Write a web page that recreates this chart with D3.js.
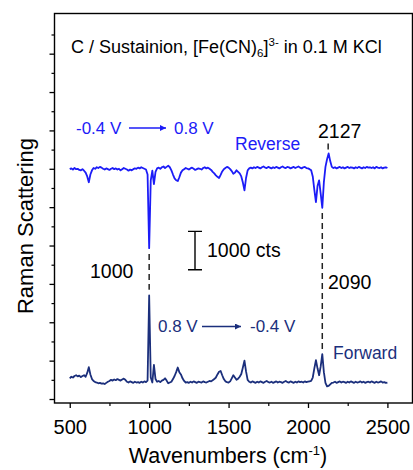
<!DOCTYPE html>
<html>
<head>
<meta charset="utf-8">
<script src="https://cdn.jsdelivr.net/npm/d3@7"></script>
<style>
  body { margin: 0; background: #fff; }
  svg text { font-family: "Liberation Sans", Arial, sans-serif; }
</style>
</head>
<body>
<svg id="chart" width="413" height="470"></svg>
<script>
// wavenumber grid (cm-1), one row per 100 cm-1
var wavenumbers = [
  500, 510, 520, 530, 540, 550, 560, 570, 580, 590,
  600, 610, 620, 630, 640, 650, 660, 670, 680, 690,
  700, 710, 720, 730, 740, 750, 760, 770, 780, 790,
  800, 810, 820, 830, 840, 850, 860, 870, 880, 890,
  900, 910, 920, 930, 940, 950, 960, 970, 980, 990,
  1000, 1010, 1020, 1030, 1040, 1050, 1060, 1070, 1080, 1090,
  1100, 1110, 1120, 1130, 1140, 1150, 1160, 1170, 1180, 1190,
  1200, 1210, 1220, 1230, 1240, 1250, 1260, 1270, 1280, 1290,
  1300, 1310, 1320, 1330, 1340, 1350, 1360, 1370, 1380, 1390,
  1400, 1410, 1420, 1430, 1440, 1450, 1460, 1470, 1480, 1490,
  1500, 1510, 1520, 1530, 1540, 1550, 1560, 1570, 1580, 1590,
  1600, 1610, 1620, 1630, 1640, 1650, 1660, 1670, 1680, 1690,
  1700, 1710, 1720, 1730, 1740, 1750, 1760, 1770, 1780, 1790,
  1800, 1810, 1820, 1830, 1840, 1850, 1860, 1870, 1880, 1890,
  1900, 1910, 1920, 1930, 1940, 1950, 1960, 1970, 1980, 1990,
  2000, 2010, 2020, 2030, 2040, 2050, 2060, 2070, 2080, 2090,
  2100, 2110, 2120, 2130, 2140, 2150, 2160, 2170, 2180, 2190,
  2200, 2210, 2220, 2230, 2240, 2250, 2260, 2270, 2280, 2290,
  2300, 2310, 2320, 2330, 2340, 2350, 2360, 2370, 2380, 2390,
  2400, 2410, 2420, 2430, 2440, 2450, 2460, 2470, 2480, 2490,
  2500
];

// forward scan 0.8 V -> -0.4 V (counts, as stacked in the figure)
var forward = [
  540, 580, 560, 600, 620, 590, 610, 570, 600, 620,
  580, 680, 830, 640, 520, 470, 440, 430, 410, 420,
  400, 410, 390, 420, 450, 470, 500, 480, 510, 490,
  520, 500, 480, 510, 530, 500, 450, 430, 460, 440,
  420, 450, 430, 440, 420, 450, 430, 460, 440, 480,
  2700, 560, 430, 890, 520, 450, 470, 440, 480, 500,
  540, 480, 410, 430, 450, 520, 600, 700, 820, 700,
  640, 540, 470, 430, 440, 420, 450, 430, 460, 440,
  420, 450, 440, 430, 460, 440, 430, 450, 470, 460,
  490, 520, 560, 640, 710, 730, 620, 520, 460, 440,
  430, 460, 540, 620, 560, 500, 530, 580, 650, 820,
  1000, 720, 500, 450, 430, 460, 440, 420, 450, 430,
  460, 440, 420, 450, 470, 440, 430, 450, 420, 440,
  460, 430, 450, 440, 420, 450, 470, 440, 430, 460,
  440, 420, 450, 430, 460, 440, 450, 430, 460, 440,
  450, 460, 470, 560, 800, 1010, 800, 620, 850, 1170,
  700, 420, 330, 340, 380, 420, 430, 450, 420, 440,
  460, 430, 450, 440, 420, 450, 430, 460, 440, 420,
  450, 430, 440, 460, 430, 450, 420, 440, 450, 430,
  460, 440, 420, 450, 430, 440, 460, 430, 440, 420,
  430
];

// reverse scan -0.4 V -> 0.8 V (counts, as stacked in the figure)
var reverse = [
  5990, 6010, 5980, 6020, 5990, 6000, 5970, 5960, 5990, 5950,
  5900, 5800, 5650, 5850, 5960, 6020, 6000, 6040, 6020, 6050,
  6030, 6000, 5980, 6010, 5990, 5970, 6000, 6020, 5990, 6010,
  5980, 6000, 5960, 5990, 6020, 6000, 5980, 5950, 5980, 5960,
  5990, 6010, 6000, 6030, 6010, 6040, 6020, 6000, 5980, 5850,
  3930, 5700, 5950, 5600, 5920, 6010, 6030, 6000, 6040, 6060,
  6020, 6050, 6080, 6040, 5960, 5850, 5750, 5700, 5680, 5780,
  5900, 5960, 5990, 6020, 6000, 5980, 6010, 6030, 6000, 5970,
  5990, 6010, 6000, 5980, 6020, 6040, 6010, 6030, 6000, 5970,
  5920, 5880, 5830, 5790, 5760, 5840, 5930, 5990, 6020, 6050,
  6030, 5990, 5940, 5870, 5900, 5960, 5920, 5880, 5800, 5640,
  5440, 5760, 5960, 6010, 6030, 6010, 6040, 6020, 6050, 6030,
  6010, 6040, 6060, 6030, 6020, 6050, 6030, 6010, 6040, 6020,
  6050, 6030, 6010, 6040, 6060, 6030, 6020, 6050, 6040, 6010,
  6030, 6050, 6020, 6040, 6060, 6030, 6010, 6040, 6050, 6020,
  6010, 5990, 5960, 5800, 5450, 5130, 5550, 5700, 5350, 4980,
  5650, 6050, 6250, 6400, 6200, 6050, 6020, 6040, 6010, 6030,
  6050, 6020, 6040, 6010, 6030, 6050, 6020, 6040, 6030, 6010,
  6040, 6020, 6050, 6030, 6010, 6040, 6020, 6050, 6030, 6040,
  6020, 6040, 6010, 6050, 6030, 6020, 6040, 6010, 6030, 6040,
  6020
];

var xTicks = [500, 1000, 1500, 2000, 2500],
    xMinor = [750, 1250, 1750, 2250],
    yTicks = [0, 1000, 2000, 3000, 4000, 5000, 6000, 7000, 8000, 9000],
    yMinor = [500, 1500, 2500, 3500, 4500, 5500, 6500, 7500, 8500, 9500];

var blue = "#1c1cf7",
    navy = "#1b2f7c";

var svg = d3.select("#chart"),
    plotLeft = 54.5,
    plotTop = 13.5,
    plotRight = 412.5,
    plotBottom = 403;

var xScale = d3.scaleLinear().domain([404, 2658]).range([plotLeft, plotRight]),
    yScale = d3.scaleLinear().domain([-104, 10047]).range([plotBottom, plotTop]);

var defs = svg.append("defs");
[["arrowBlue", blue], ["arrowNavy", navy]].forEach(function(m) {
  defs.append("marker")
      .attr("id", m[0])
      .attr("viewBox", "0 0 10 10")
      .attr("refX", 10).attr("refY", 5)
      .attr("markerWidth", 7).attr("markerHeight", 6)
      .attr("markerUnits", "userSpaceOnUse")
      .attr("orient", "auto")
    .append("path")
      .attr("d", "M0,0L10,5L0,10z")
      .attr("fill", m[1]);
});

// axes
var xAxis = svg.append("g")
    .attr("transform", "translate(0," + plotBottom + ")")
    .call(d3.axisBottom(xScale).tickValues(xTicks).tickSize(5).tickSizeOuter(0)
          .tickFormat(d3.format("d")));
xAxis.select(".domain").remove();
xAxis.selectAll("text")
    .attr("font-size", "20px")
    .attr("dy", null)
    .attr("y", 31)
    .attr("fill", "#000");
xAxis.selectAll("line").attr("stroke-width", 1.3);

svg.append("g")
    .attr("transform", "translate(0," + plotBottom + ")")
    .call(d3.axisBottom(xScale).tickValues(xMinor).tickSize(3).tickFormat(""))
    .call(function(g) { g.select(".domain").remove(); })
    .selectAll("line").attr("stroke-width", 1.2);

svg.append("g")
    .attr("transform", "translate(" + plotLeft + ",0)")
    .call(d3.axisLeft(yScale).tickValues(yTicks).tickSize(5).tickFormat(""))
    .call(function(g) { g.select(".domain").remove(); })
    .selectAll("line").attr("stroke-width", 1.3);

svg.append("g")
    .attr("transform", "translate(" + plotLeft + ",0)")
    .call(d3.axisLeft(yScale).tickValues(yMinor).tickSize(3).tickFormat(""))
    .call(function(g) { g.select(".domain").remove(); })
    .selectAll("line").attr("stroke-width", 1.2);

// frame
svg.append("rect")
    .attr("x", plotLeft).attr("y", plotTop)
    .attr("width", plotRight - plotLeft).attr("height", plotBottom - plotTop)
    .attr("fill", "none")
    .attr("stroke", "#000")
    .attr("stroke-width", 1.4);

// spectra
var line = d3.line()
    .x(function(d) { return xScale(d[0]); })
    .y(function(d) { return yScale(d[1]); });

svg.append("path")
    .datum(d3.zip(wavenumbers, reverse))
    .attr("d", line)
    .attr("fill", "none")
    .attr("stroke", blue)
    .attr("stroke-width", 1.8)
    .attr("stroke-linejoin", "round");

svg.append("path")
    .datum(d3.zip(wavenumbers, forward))
    .attr("d", line)
    .attr("fill", "none")
    .attr("stroke", navy)
    .attr("stroke-width", 1.8)
    .attr("stroke-linejoin", "round");

// dashed guide lines between the two spectra
var guides = [[1000, 3780, 2850], [2090, 4850, 1250], [2127, 6660, 6470]];
svg.selectAll(".guide")
    .data(guides)
    .enter().append("line")
    .attr("class", "guide")
    .attr("x1", function(d) { return xScale(d[0]); })
    .attr("x2", function(d) { return xScale(d[0]); })
    .attr("y1", function(d) { return yScale(d[1]); })
    .attr("y2", function(d) { return yScale(d[2]); })
    .attr("stroke", "#222")
    .attr("stroke-width", 1.5)
    .attr("stroke-dasharray", "6,4");

// 1000 cts scale bar
var barX = 195, barTop = yScale(4370), barBot = yScale(3370);
svg.append("path")
    .attr("d", "M" + (barX - 7) + "," + barTop + "H" + (barX + 7) +
               "M" + barX + "," + barTop + "V" + barBot +
               "M" + (barX - 7) + "," + barBot + "H" + (barX + 7))
    .attr("fill", "none")
    .attr("stroke", "#000")
    .attr("stroke-width", 1.4);

function label(x, y, txt, size, color) {
  return svg.append("text")
      .attr("x", x).attr("y", y)
      .attr("font-size", size + "px")
      .attr("fill", color || "#000")
      .text(txt);
}

// title
var title = svg.append("text")
    .attr("x", 71).attr("y", 52.5)
    .attr("font-size", "18px")
    .attr("fill", "#000");
title.append("tspan").text("C / Sustainion, [Fe(CN)");
title.append("tspan").attr("font-size", "11.5px").attr("dy", 4).text("6");
title.append("tspan").attr("dy", -4).text("]");
title.append("tspan").attr("font-size", "11.5px").attr("dy", -7).text("3-");
title.append("tspan").attr("dy", 7).text(" in 0.1 M KCl");

// scan direction labels
label(76, 133.5, "-0.4 V", 17, blue);
svg.append("line")
    .attr("x1", 129).attr("x2", 166).attr("y1", 128).attr("y2", 128)
    .attr("stroke", blue).attr("stroke-width", 1.3)
    .attr("marker-end", "url(#arrowBlue)");
label(174, 133.5, "0.8 V", 17, blue);
label(235, 150, "Reverse", 17.5, blue);

label(158, 332, "0.8 V", 17, navy);
svg.append("line")
    .attr("x1", 202).attr("x2", 241).attr("y1", 326.5).attr("y2", 326.5)
    .attr("stroke", navy).attr("stroke-width", 1.3)
    .attr("marker-end", "url(#arrowNavy)");
label(250, 332, "-0.4 V", 17, navy);
label(333, 359, "Forward", 17.5, navy);

// peak labels
label(318, 138, "2127", 19.5);
label(90, 278, "1000", 19.5);
label(328, 288.5, "2090", 19.5);
label(207, 257, "1000 cts", 19.5);

// axis titles
var xt = svg.append("text")
    .attr("x", 228).attr("y", 463)
    .attr("text-anchor", "middle")
    .attr("font-size", "21.5px")
    .attr("fill", "#000");
xt.append("tspan").text("Wavenumbers (cm");
xt.append("tspan").attr("font-size", "13px").attr("dy", -8).text("-1");
xt.append("tspan").attr("dy", 8).text(")");

svg.append("text")
    .attr("transform", "translate(33,226) rotate(-90)")
    .attr("text-anchor", "middle")
    .attr("font-size", "22px")
    .attr("fill", "#000")
    .text("Raman Scattering");
</script>
</body>
</html>
